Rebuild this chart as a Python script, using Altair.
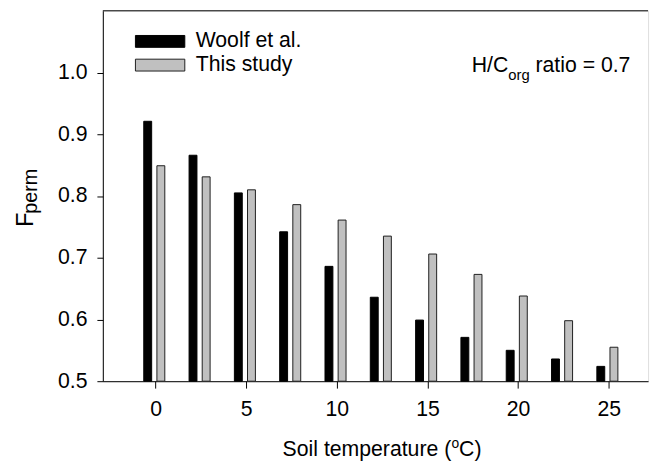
import altair as alt
import pandas as pd

# ---- data ----
temps = [0, 2.5, 5, 7.5, 10, 12.5, 15, 17.5, 20, 22.5, 25]
woolf = [0.921, 0.866, 0.805, 0.742, 0.686, 0.636, 0.599, 0.571, 0.550, 0.536, 0.524]
this_study = [0.849, 0.831, 0.810, 0.786, 0.761, 0.735, 0.706, 0.673, 0.638, 0.598, 0.555]
series_names = ["Woolf et al.", "This study"]
fill_colors = ["#000000", "#c0c0c0"]
stroke_colors = ["#000000", "#1e1e1e"]
x_ticks = [0, 5, 10, 15, 20, 25]
y_ticks = [0.5, 0.6, 0.7, 0.8, 0.9, 1.0]
x_domain = [-2.64, 26.9]
y_domain = [0.5, 1.1]
baseline_value = 0.5

FONT = "Liberation Sans"
FS = 21.5
W, H = 552, 375

df = pd.DataFrame({
    "temp": temps * 2,
    "F": woolf + this_study,
    "series": [series_names[0]] * len(temps) + [series_names[1]] * len(temps),
    "base": [baseline_value] * (2 * len(temps)),
})

leg = alt.Legend(
    title=None, orient="none", legendX=45, legendY=18,
    symbolType="M-2,-0.48H2V0.48H-2Z", symbolSize=625,
    symbolStrokeWidth=1, symbolOpacity=1,
    labelOffset=23, rowPadding=-1, padding=0,
    labelFontSize=FS, labelFont=FONT, labelColor="black",
)

x_enc = alt.X(
    "temp:Q",
    scale=alt.Scale(domain=x_domain, nice=False, zero=False),
    axis=alt.Axis(values=x_ticks, format="d", title=None, grid=False,
                  tickSize=7, labelPadding=11, labelFontSize=FS, labelFont=FONT,
                  labelColor="black", domainColor="black", tickColor="black",
                  labelFlush=False, labelOverlap=False),
)
y_enc = alt.Y(
    "F:Q",
    scale=alt.Scale(domain=y_domain, nice=False, zero=False),
    axis=alt.Axis(values=y_ticks, format=".1f", title=None, grid=False,
                  tickSize=6, labelPadding=10, labelFontSize=FS, labelFont=FONT,
                  labelColor="black", domainColor="black", tickColor="black",
                  labelFlush=False, labelOverlap=False),
)
fill_enc = alt.Fill("series:N", scale=alt.Scale(domain=series_names, range=fill_colors),
                    legend=leg, sort=series_names)
stroke_enc = alt.Stroke("series:N", scale=alt.Scale(domain=series_names, range=stroke_colors),
                        legend=leg, sort=series_names)

base = alt.Chart(df).encode(x=x_enc, y=y_enc, y2="base:Q", fill=fill_enc, stroke=stroke_enc)

bars_w = base.transform_filter(alt.datum.series == series_names[0]).mark_bar(
    width=8, xOffset=-8, strokeWidth=1, opacity=1)
bars_t = base.transform_filter(alt.datum.series == series_names[1]).mark_bar(
    width=8, xOffset=5.3, strokeWidth=1, opacity=1)

one = pd.DataFrame({"k": [0]})
top_rule = alt.Chart(one).mark_rule(color="black", strokeWidth=1).encode(
    x=alt.value(0), x2=alt.value(W), y=alt.value(0))


def txt(s, x, y, size=FS, angle=0, align="left", baseline="alphabetic"):
    return alt.Chart(one).mark_text(
        text=s, fontSize=size, font=FONT, color="black", align=align,
        baseline=baseline, angle=angle,
    ).encode(x=alt.value(x), y=alt.value(y))


annots = [
    # H/C_org ratio = 0.7
    txt("H/C", 373.5, 62),
    txt("org", 410.5, 70, size=15),
    txt("ratio = 0.7", 438, 62),
    # x title: Soil temperature (°C)
    txt("Soil temperature (", 182, 451),
    txt("o", 352.9, 443, size=14),
    txt("C)", 360.7, 451),
    # y title: F_perm
    txt("F", -71, 218.8, size=24, angle=270),
    txt("perm", -66.5, 205.5, size=20, angle=270),
]

chart = alt.layer(bars_w, bars_t, top_rule, *annots).properties(
    width=W, height=H,
    autosize=alt.AutoSizeParams(type="none"),
    padding={"left": 96, "top": 0, "right": 6, "bottom": 80},
).configure_view(strokeWidth=0).configure(font=FONT)

chart.save("out.html", embed_options={"renderer": "svg", "actions": False})
